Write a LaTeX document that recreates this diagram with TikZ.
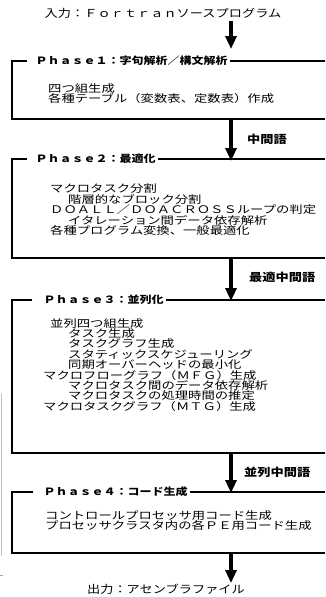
\documentclass[tikz,border=0pt]{standalone}
\usepackage{fontspec}
\newfontfamily\jp[FakeStretch=1.2]{Noto Sans CJK JP}
\newfontfamily\jpbody[FakeStretch=1.27]{Noto Sans CJK JP}
\usetikzlibrary{arrows.meta}
\begin{document}
\begin{tikzpicture}[x=1pt,y=-1pt,
  boxline/.style={line width=1.4pt,black},
  flowarrow/.style={line width=3.2pt,-{Triangle[length=13pt,width=11pt]}},
  head/.style={font={\jp\bfseries\fontsize{10}{12}\selectfont},inner sep=2.5pt,anchor=west},
  lbl/.style={font={\jp\bfseries\fontsize{11}{12}\selectfont},inner sep=0pt,anchor=west},
  body/.style={font={\jpbody\fontsize{10.5}{10.4}\selectfont\lineskiplimit=-8pt\lineskip=0pt},align=left,inner sep=0pt,anchor=north west},
  ttl/.style={font={\jp\fontsize{11}{12}\selectfont},inner sep=0pt}]
\useasboundingbox (0,0) rectangle (325,597);
\fill[white] (0,0) rectangle (325,597);

% title / output
\node[ttl] (in) at (163,13) {入力：Ｆｏｒｔｒａｎソースプログラム};
\node[ttl] (out) at (166,589) {出力：アセンブラファイル};

% Phase 1
\node[head] (h1) at (33,61) {Ｐｈａｓｅ１：字句解析／構文解析};
\draw[boxline] (27,61) -- (12,61) -- (12,119) -- (325,119);
\draw[boxline] (h1.east) -- (325,61);
\node[body] (b1) at (48,83) {四つ組生成\\各種テーブル（変数表、定数表）作成};

% Phase 2
\node[head] (h2) at (33,159) {Ｐｈａｓｅ２：最適化};
\draw[boxline] (27,159) -- (12,159) -- (12,258) -- (325,258);
\draw[boxline] (h2.east) -- (325,159);
\node[body] (b2) at (50,184) {マクロタスク分割\\
\hspace*{18pt}階層的なブロック分割\\
ＤＯＡＬＬ／ＤＯＡＣＲＯＳＳループの判定\\
\hspace*{18pt}イタレーション間データ依存解析\\
各種プログラム変換、一般最適化};

% Phase 3
\node[head] (h3) at (41,300) {Ｐｈａｓｅ３：並列化};
\draw[boxline] (32,300) -- (12,300) -- (12,453) -- (325,453);
\draw[boxline] (h3.east) -- (325,300);
\node[body] (b3) at (43,318) {\hspace*{7pt}並列四つ組生成\\
\hspace*{25pt}タスク生成\\
\hspace*{25pt}タスクグラフ生成\\
\hspace*{25pt}スタティックスケジューリング\\
\hspace*{25pt}同期オーバーヘッドの最小化\\
マクロフローグラフ（ＭＦＧ）生成\\
\hspace*{25pt}マクロタスク間のデータ依存解析\\
\hspace*{25pt}マクロタスクの処理時間の推定\\
マクロタスクグラフ（ＭＴＧ）生成};

% Phase 4
\node[head] (h4) at (41,492) {Ｐｈａｓｅ４：コード生成};
\draw[boxline] (33,492) -- (12,492) -- (12,553) -- (325,553);
\draw[boxline] (h4.east) -- (325,492);
\node[body] (b4) at (45,510) {コントロールプロセッサ用コード生成\\プロセッサクラスタ内の各ＰＥ用コード生成};

% arrows
\coordinate (a0s) at (231,21);  \coordinate (a0e) at (231,49);
\coordinate (a1s) at (231,119); \coordinate (a1e) at (231,161);
\coordinate (a2s) at (231,258); \coordinate (a2e) at (231,301);
\coordinate (a3s) at (231,453); \coordinate (a3e) at (231,493);
\coordinate (a4s) at (231,553); \coordinate (a4e) at (231,583);
\draw[flowarrow] (a0s) -- (a0e);
\draw[flowarrow] (a1s) -- (a1e);
\draw[flowarrow] (a2s) -- (a2e);
\draw[flowarrow] (a3s) -- (a3e);
\draw[flowarrow] (a4s) -- (a4e);

\node[lbl] (l1) at (247,139) {中間語};
\node[lbl] (l2) at (249,277) {最適中間語};
\node[lbl] (l3) at (244,472) {並列中間語};

% scan mark at left edge
\draw[gray!50,line width=0.8pt] (1.5,394) -- (1.5,556);
\draw[gray!70,line width=0.8pt] (0,575) -- (3,575);
\end{tikzpicture}
\end{document}
